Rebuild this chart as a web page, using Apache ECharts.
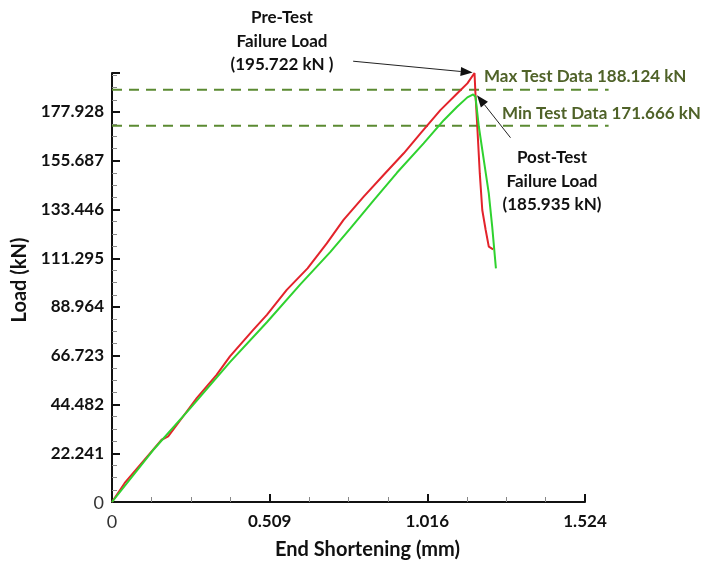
<!DOCTYPE html>
<html lang="en" style="height: 100%">
<head>
<meta charset="utf-8">
<title>Load vs End Shortening</title>
</head>
<body style="height: 100%; margin: 0; background: #fff">
<div id="container" style="height: 100%"></div>

<script type="text/javascript" src="https://cdn.jsdelivr.net/npm/echarts/dist/echarts.min.js"></script>

<script type="text/javascript">

var dom = document.getElementById('container');
var myChart = echarts.init(dom);

// pre-test curve: [end shortening mm, load kN]
var preTest = [
    [0, 0], [0.041, 8.7], [0.132, 23.8], [0.160, 28.4], [0.181, 29.9],
    [0.229, 39.0], [0.273, 47.4], [0.337, 58.0], [0.380, 66.4], [0.455, 78.5],
    [0.499, 85.4], [0.563, 96.8], [0.630, 106.6], [0.692, 118.0], [0.746, 128.7],
    [0.811, 139.3], [0.875, 149.2], [0.940, 159.1], [0.994, 168.2], [1.058, 178.8],
    [1.112, 186.4], [1.145, 191.0], [1.168, 195.722],
    [1.171, 186.4], [1.177, 171.2], [1.185, 149.9], [1.193, 133.2], [1.204, 124.1],
    [1.214, 116.5], [1.228, 115.3]
];

// post-test curve
var postTest = [
    [0, 0], [0.132, 23.6], [0.251, 42.6], [0.380, 63.8], [0.499, 82.0],
    [0.606, 99.2], [0.703, 114.0], [0.768, 124.8], [0.843, 137.6],
    [0.918, 150.2], [1.004, 163.6], [1.069, 174.2], [1.112, 180.3], [1.145, 184.6],
    [1.164, 185.935],
    [1.171, 184.9], [1.182, 171.2], [1.198, 156.0], [1.214, 140.8], [1.225, 125.6],
    [1.237, 106.6]
];

var maxTest = 188.124;
var minTest = 171.666;
var refLineX = [0, 1.6];

var xTickLabels = ['0', '0.509', '1.016', '1.524'];
var yTickLabels = ['0', '22.241', '44.482', '66.723', '88.964', '111.295', '133.446', '155.687', '177.928'];
var xStep = 0.508;
var yStep = 22.241;
var yMax = 195.722;

// annotation arrows: [fromX, fromY, toX, toY]
var arrows = [
    [0.777, 201.1, 1.162, 195.9],
    [1.284, 166.2, 1.176, 185.6]
];

var font = 'Lato, "Open Sans", sans-serif';
var darkGreen = '#4f6228';

function renderRef(params, api) {
    var p0 = api.coord([api.value(0), api.value(1)]);
    var p1 = api.coord([api.value(2), api.value(1)]);
    return {
        type: 'line',
        shape: { x1: p0[0], y1: p0[1], x2: p1[0], y2: p1[1] },
        style: { stroke: '#5b8a32', lineWidth: 2, lineDash: [10, 7] }
    };
}

function renderArrow(params, api) {
    var a = api.coord([api.value(0), api.value(1)]);
    var b = api.coord([api.value(2), api.value(3)]);
    var dx = b[0] - a[0], dy = b[1] - a[1];
    var len = Math.sqrt(dx * dx + dy * dy);
    var ux = dx / len, uy = dy / len;
    var hl = 12, hw = 4.5;
    var bx = b[0] - ux * hl, by = b[1] - uy * hl;
    return {
        type: 'group',
        children: [
            {
                type: 'line',
                shape: { x1: a[0], y1: a[1], x2: bx, y2: by },
                style: { stroke: '#222', lineWidth: 1 }
            },
            {
                type: 'polygon',
                shape: { points: [[b[0], b[1]], [bx - uy * hw, by + ux * hw], [bx + uy * hw, by - ux * hw]] },
                style: { fill: '#111' }
            }
        ]
    };
}

var option = {
    backgroundColor: '#fff',
    animation: false,
    textStyle: { fontFamily: font },
    grid: { left: 112, right: 121, top: 73, bottom: 66 },
    xAxis: {
        type: 'value',
        min: 0,
        max: xStep * 3,
        interval: xStep,
        name: 'End Shortening (mm)',
        nameLocation: 'middle',
        nameGap: 38,
        nameTextStyle: { fontSize: 20, fontWeight: 'bold', color: '#111', fontFamily: font, padding: [0, 0, 0, 38] },
        axisLine: { lineStyle: { color: '#111', width: 2 } },
        axisTick: { inside: true, length: 8, lineStyle: { color: '#111', width: 2 } },
        minorTick: { show: true, splitNumber: 4, length: 5, lineStyle: { color: '#888', width: 1 } },
        splitLine: { show: false },
        axisLabel: {
            margin: 11,
            fontSize: 17,
            fontWeight: 'bold',
            color: '#111',
            fontFamily: font,
            formatter: function (v) {
                var i = Math.round(v / xStep);
                return i === 0 ? '{z|0}' : xTickLabels[i];
            },
            rich: { z: { fontSize: 18, fontWeight: 'normal', color: '#333', fontFamily: font } }
        }
    },
    yAxis: {
        type: 'value',
        min: 0,
        max: yMax,
        interval: yStep,
        name: 'Load (kN)',
        nameLocation: 'middle',
        nameGap: 78,
        nameTextStyle: { fontSize: 20, fontWeight: 'bold', color: '#111', fontFamily: font, padding: [0, 0, 0, 15] },
        axisLine: { show: true, lineStyle: { color: '#111', width: 2 } },
        axisTick: { show: true, inside: true, length: 8, lineStyle: { color: '#111', width: 2 } },
        minorTick: { show: true, splitNumber: 4, length: 5, lineStyle: { color: '#888', width: 1 } },
        splitLine: { show: false },
        axisLabel: {
            margin: 8,
            fontSize: 17,
            fontWeight: 'bold',
            color: '#111',
            fontFamily: font,
            showMaxLabel: false,
            formatter: function (v) {
                var i = Math.round(v / yStep);
                if (Math.abs(v - i * yStep) > 0.01) return '';
                return i === 0 ? '{z|0}' : yTickLabels[i];
            },
            rich: { z: { fontSize: 18, fontWeight: 'normal', color: '#333', fontFamily: font, padding: [3, 0, 0, 0] } }
        }
    },
    series: [
        {
            name: 'Test Data Range',
            type: 'custom',
            renderItem: renderRef,
            clip: false,
            silent: true,
            encode: { x: [0, 2], y: 1 },
            data: [[refLineX[0], maxTest, refLineX[1]], [refLineX[0], minTest, refLineX[1]]],
            z: 1
        },
        {
            name: 'Pre-Test',
            type: 'line',
            data: preTest,
            showSymbol: false,
            clip: false,
            lineStyle: { color: '#e3232b', width: 2 },
            itemStyle: { color: '#e3232b' },
            z: 3
        },
        {
            name: 'Post-Test',
            type: 'line',
            data: postTest,
            showSymbol: false,
            clip: false,
            lineStyle: { color: '#2fd22f', width: 2 },
            itemStyle: { color: '#2fd22f' },
            z: 4
        },
        {
            name: 'Arrows',
            type: 'custom',
            renderItem: renderArrow,
            clip: false,
            silent: true,
            encode: { x: [0, 2], y: [1, 3] },
            data: arrows,
            z: 5
        }
    ],
    graphic: [
        {
            type: 'text', left: 484, top: 68, silent: true,
            style: { text: 'Max Test Data ' + maxTest.toFixed(3) + ' kN', fill: darkGreen, font: 'bold 17px ' + font }
        },
        {
            type: 'text', left: 502, top: 105, silent: true,
            style: { text: 'Min Test Data ' + minTest.toFixed(3) + ' kN', fill: darkGreen, font: 'bold 17px ' + font }
        },
        {
            type: 'text', x: 282, y: 6, silent: true,
            style: { text: 'Pre-Test\nFailure Load\n(195.722 kN )', fill: '#111', font: 'bold 17px ' + font, align: 'center', lineHeight: 23.5 }
        },
        {
            type: 'text', x: 552, y: 146, silent: true,
            style: { text: 'Post-Test\nFailure Load\n(185.935 kN)', fill: '#111', font: 'bold 17px ' + font, align: 'center', lineHeight: 23.5 }
        }
    ]
};

myChart.setOption(option);
window.addEventListener('resize', myChart.resize);
</script>
</body>
</html>
